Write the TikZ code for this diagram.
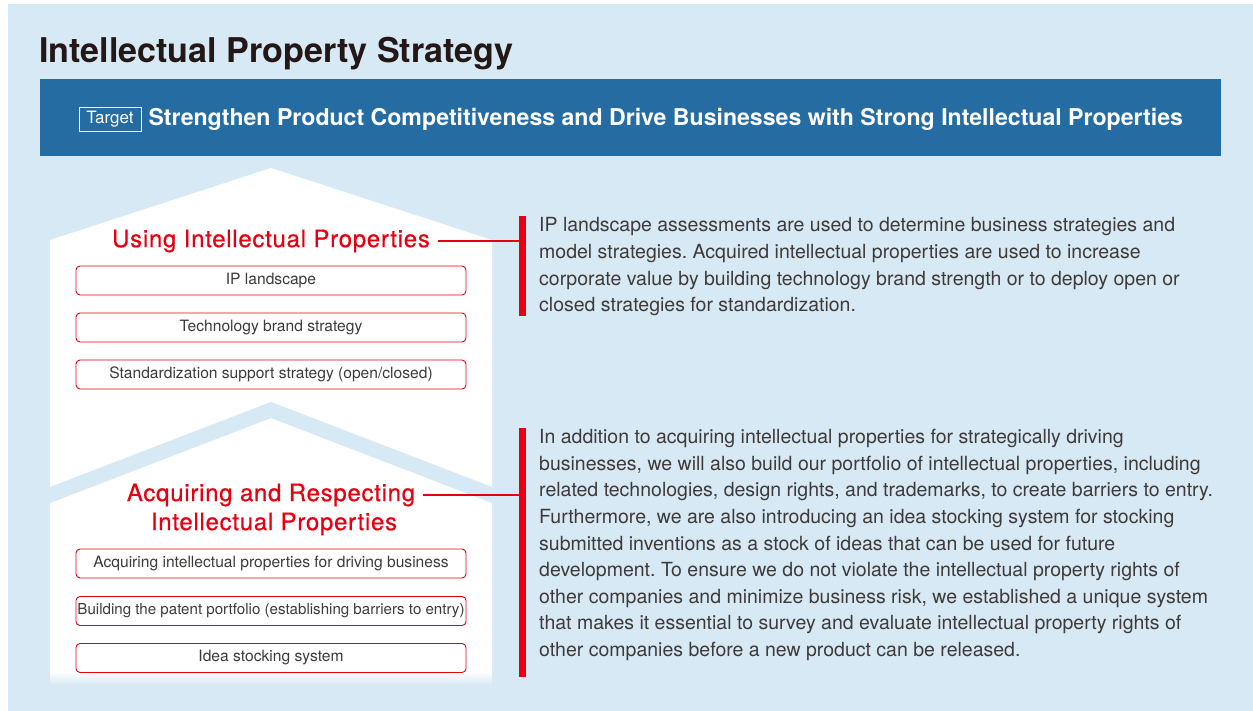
\documentclass[tikz,border=0pt]{standalone}
\usepackage{fontspec}
\setmainfont{TeX Gyre Heros}
\newfontfamily\headfont[FakeBold=0.6, LetterSpace=3]{TeX Gyre Heros}
\usetikzlibrary{positioning, calc}
\frenchspacing

\definecolor{bgblue}{HTML}{D7E9F4}
\definecolor{bannerblue}{HTML}{256CA3}
\definecolor{ipred}{HTML}{E60012}
\definecolor{bodygray}{HTML}{3E3A39}
\definecolor{titleblack}{HTML}{231815}

\begin{document}
\begin{tikzpicture}[
  x=1pt, y=-1pt,
  headline/.style={text=ipred, inner sep=0pt, font=\headfont\fontsize{24}{29}\selectfont},
  itembox/.style={draw=ipred, line width=0.9pt, fill=white, rounded corners=4pt,
    minimum width=390pt, minimum height=29pt, inner sep=0pt, text=bodygray,
    font=\fontsize{15.6}{18}\selectfont},
  redbar/.style={fill=ipred, inner sep=0pt, minimum width=6.5pt},
  redlink/.style={ipred, line width=1.1pt},
  para/.style={anchor=north west, align=left, inner sep=0pt, text=bodygray,
    font=\fontsize{19.5}{26.6}\selectfont}
]
\useasboundingbox (0,0) rectangle (1253,711);

% background
\fill[white] (0,0) rectangle (1253,711);
\fill[bgblue] (8,4) rectangle (1253,711);

% title and target banner
\node[anchor=base west, inner sep=0pt, text=titleblack,
  font=\fontsize{34.1}{38}\selectfont\bfseries] (title) at (39,63)
  {Intellectual Property Strategy};
\node[fill=bannerblue, minimum width=1181pt, minimum height=77pt, inner sep=0pt]
  (banner) at (630.5,117.5) {};
\node[draw=white, line width=0.7pt, text=white, minimum width=62pt, minimum height=24pt,
  inner sep=0pt, font=\fontsize{17}{20}\selectfont] (target) at (110,119) {Target};
\node[right=7pt of target, inner sep=0pt, text=white,
  font=\fontsize{23.1}{26}\selectfont\bfseries] (goal)
  {Strengthen Product Competitiveness and Drive Businesses with Strong Intellectual Properties};

% house
\fill[white] (50,240) -- (271,168) -- (492,240) -- (492,672) -- (50,672) -- cycle;
\shade[top color=white, bottom color=bgblue] (50,671.5) rectangle (492,685);
\fill[bgblue] (50,487) -- (271,402) -- (492,487) -- (492,503) -- (271,418) -- (50,503) -- cycle;

% red bars
\node[redbar, minimum height=100pt] (bar1) at (522.5,266) {};
\node[redbar, minimum height=249pt] (bar2) at (522.5,552.5) {};

% --- upper floor: using ---
\node[headline] (useH) at (271,241) {Using Intellectual Properties};
\node[itembox] (landscape) at (271,280.5) {IP landscape};
\node[itembox] (brand) at (271,327.5) {Technology brand strategy};
\node[itembox] (standard) at (271,374.5) {Standardization support strategy (open/closed)};

% --- lower floor: acquiring ---
\node[headline] (acqA) at (271,495) {Acquiring and Respecting};
\node[headline] (acqB) at (274,524) {Intellectual Properties};
\node[itembox] (driving) at (271,563.5) {Acquiring intellectual properties for driving business};
\node[itembox, font=\fontsize{15.1}{18}\selectfont] (portfolio) at (271,611)
  {Building the patent portfolio (establishing barriers to entry)};
\node[itembox] (stocking) at (271,658) {Idea stocking system};

% links to the explanations
\draw[redlink] ($(useH.east)+(8,0)$) -- (useH.east -| bar1.west);
\draw[redlink] ($(acqA.east)+(8,0)$) -- (acqA.east -| bar2.west);

% explanations
\node[para] (useText) at (539,217.5)
  {IP landscape assessments are used to determine business strategies and\\
   model strategies. Acquired intellectual properties are used to increase\\
   corporate value by building technology brand strength or to deploy open or\\
   closed strategies for standardization.};
\node[para] (acqText) at (539,429.3)
  {In addition to acquiring intellectual properties for strategically driving\\
   businesses, we will also build our portfolio of intellectual properties, including\\
   related technologies, design rights, and trademarks, to create barriers to entry.\\
   Furthermore, we are also introducing an idea stocking system for stocking\\
   submitted inventions as a stock of ideas that can be used for future\\
   development. To ensure we do not violate the intellectual property rights of\\
   other companies and minimize business risk, we established a unique system\\
   that makes it essential to survey and evaluate intellectual property rights of\\
   other companies before a new product can be released.};
\end{tikzpicture}
\end{document}
